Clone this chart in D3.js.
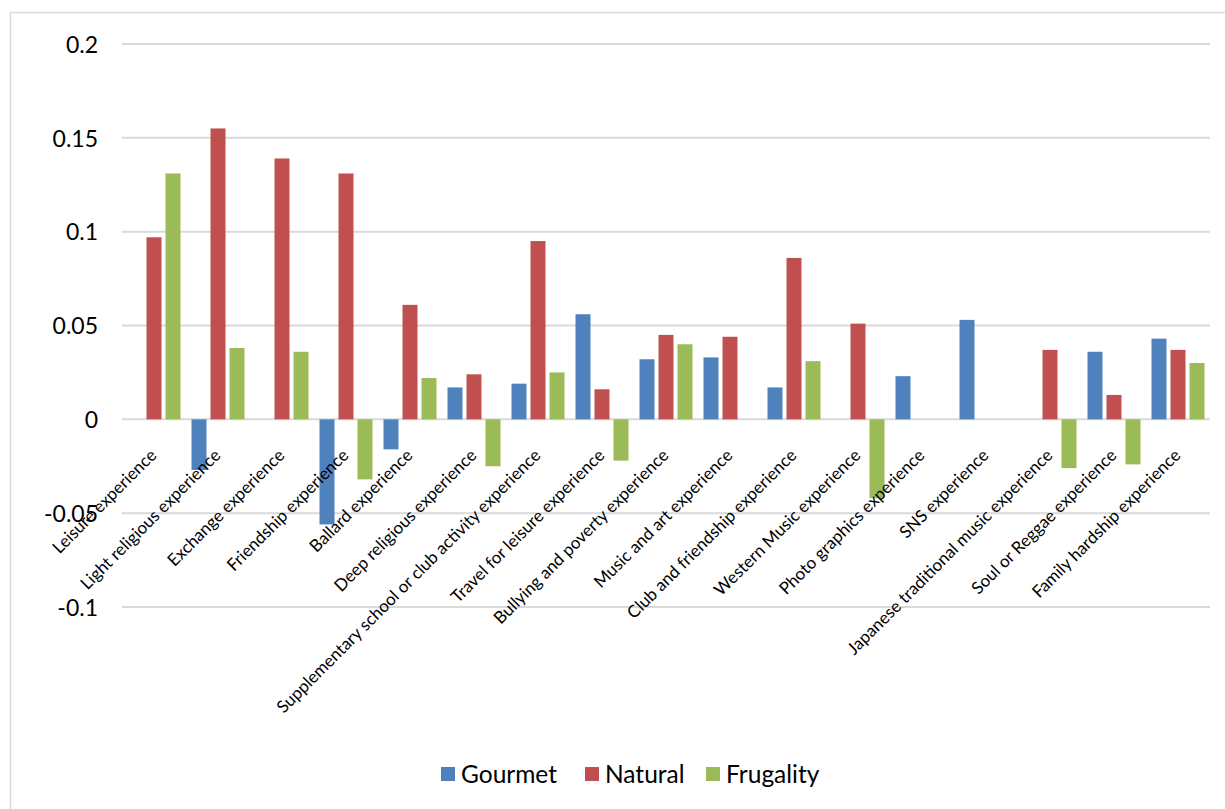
<!DOCTYPE html>
<html>
<head>
<meta charset="utf-8">
<script src="https://cdn.jsdelivr.net/npm/d3@7"></script>
<style>
  html, body { margin: 0; padding: 0; background: #fff; }
  svg { display: block; font-family: Lato, "Open Sans", sans-serif; }
</style>
</head>
<body>
<svg id="chart" width="1225" height="809"></svg>
<script>
// Experience categories along the x axis
const categories = [
  "Leisure experience",
  "Light religious experience",
  "Exchange experience",
  "Friendship experience",
  "Ballard experience",
  "Deep religious experience",
  "Supplementary school or club activity experience",
  "Travel for leisure experience",
  "Bullying and poverty experience",
  "Music and art experience",
  "Club and friendship experience",
  "Western Music experience",
  "Photo graphics experience",
  "SNS experience",
  "Japanese traditional music experience",
  "Soul or Reggae experience",
  "Family hardship experience"
];

const seriesNames = ["Gourmet", "Natural", "Frugality"];

// Coefficients per series (0 = no bar)
const gourmet   = [0, -0.027, 0, -0.056, -0.016, 0.017, 0.019, 0.056, 0.032, 0.033, 0.017, 0, 0.023, 0.053, 0, 0.036, 0.043];
const natural   = [0.097, 0.155, 0.139, 0.131, 0.061, 0.024, 0.095, 0.016, 0.045, 0.044, 0.086, 0.051, 0, 0, 0.037, 0.013, 0.037];
const frugality = [0.131, 0.038, 0.036, -0.032, 0.022, -0.025, 0.025, -0.022, 0.040, 0, 0.031, -0.042, 0, 0, -0.026, -0.024, 0.030];

const tickValues = [-0.1, -0.05, 0, 0.05, 0.1, 0.15, 0.2];
const tickLabels = ["-0.1", "-0.05", "0", "0.05", "0.1", "0.15", "0.2"];

const colors = ["#4F81BD", "#C0504D", "#9BBB59"];

const seriesValues = [gourmet, natural, frugality];
const rows = categories.map((c, i) => ({
  category: c,
  values: seriesNames.map((s, k) => ({ series: s, value: seriesValues[k][i] }))
}));

const svg = d3.select("#chart");

// Chart frame
svg.append("rect")
  .attr("x", 10.5).attr("y", 12.5)
  .attr("width", 1230).attr("height", 820)
  .attr("fill", "none")
  .attr("stroke", "#D9D9D9")
  .attr("stroke-width", 1.5);

const plot = { left: 122, right: 1210, top: 44, bottom: 607 };

const x0 = d3.scaleBand()
  .domain(categories)
  .range([plot.left, plot.right])
  .padding(0);

const bw = x0.bandwidth();
const x1 = d3.scaleBand()
  .domain(seriesNames)
  .range([bw * 5.5 / 64, bw * 58.5 / 64])
  .paddingInner(4 / 19)
  .paddingOuter(0);

const y = d3.scaleLinear()
  .domain([-0.1, 0.2])
  .range([plot.bottom, plot.top]);

const color = d3.scaleOrdinal().domain(seriesNames).range(colors);

// Gridlines
svg.append("g")
  .selectAll("line")
  .data(tickValues)
  .join("line")
  .attr("x1", plot.left).attr("x2", plot.right)
  .attr("y1", d => y(d)).attr("y2", d => y(d))
  .attr("stroke", "#D9D9D9")
  .attr("stroke-width", 2);

// Y axis labels
const yAxis = d3.axisLeft(y)
  .tickValues(tickValues)
  .tickFormat((d, i) => tickLabels[i])
  .tickSize(0)
  .tickPadding(0);

const yg = svg.append("g")
  .attr("transform", `translate(98,0)`)
  .call(yAxis);
yg.select(".domain").remove();
yg.selectAll("text")
  .attr("font-family", "Lato, sans-serif")
  .attr("font-size", 23)
  .attr("fill", "#000")
  .attr("dy", "0.36em");

// Bars
const groups = svg.append("g")
  .selectAll("g")
  .data(rows)
  .join("g")
  .attr("transform", d => `translate(${x0(d.category)},0)`);

groups.selectAll("rect")
  .data(d => d.values.filter(v => v.value !== 0))
  .join("rect")
  .attr("x", d => x1(d.series))
  .attr("width", x1.bandwidth())
  .attr("y", d => y(Math.max(0, d.value)))
  .attr("height", d => Math.abs(y(d.value) - y(0)))
  .attr("fill", d => color(d.series));

// Category labels, rotated
svg.append("g")
  .selectAll("text")
  .data(categories)
  .join("text")
  .attr("transform", d => {
    const cx = x0(d) + bw / 2 + 3.5;
    const cy = y(0) + 37;
    return `translate(${cx},${cy}) rotate(-45)`;
  })
  .attr("text-anchor", "end")
  .attr("font-size", 17)
  .attr("fill", "#000")
  .text(d => d);

// Legend
const legendItems = [
  { name: "Gourmet", x: 441 },
  { name: "Natural", x: 585 },
  { name: "Frugality", x: 706 }
];
const legend = svg.append("g")
  .selectAll("g")
  .data(legendItems)
  .join("g")
  .attr("transform", d => `translate(${d.x},767)`);
legend.append("rect")
  .attr("width", 14).attr("height", 14)
  .attr("fill", d => color(d.name));
legend.append("text")
  .attr("x", 20).attr("y", 15.5)
  .attr("font-size", 24.5)
  .attr("fill", "#000")
  .text(d => d.name);
</script>
</body>
</html>
